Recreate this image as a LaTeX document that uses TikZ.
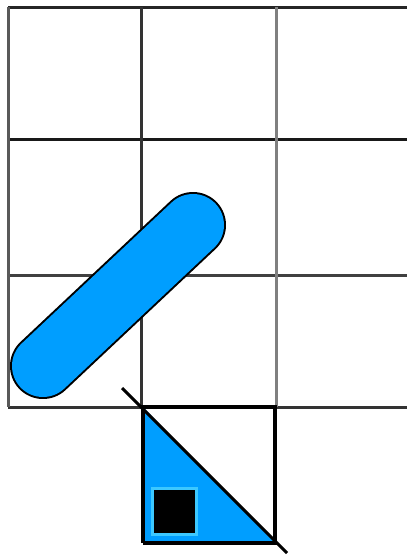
\documentclass[tikz,border=0pt]{standalone}
\begin{document}
\begin{tikzpicture}[x=1pt,y=-1pt,
  gline/.style={line width=3pt},
  capblue/.style={color={rgb,255:red,0;green,158;blue,255}}]
\definecolor{cblue}{RGB}{0,158,255}
\definecolor{lblue}{RGB}{60,200,255}
\useasboundingbox (0,0) rectangle (407,555);
% grid
\coordinate (g00) at (8,7);
\draw[gline,color=black!85] (8,7) -- (407,7);
\draw[gline,color=black!90] (8,139) -- (407,139);
\draw[gline,color=black!75] (8,275) -- (407,275);
\draw[gline,color=black!80] (8,407) -- (407,407);
\draw[gline,color=black!65] (8,7) -- (8,407);
\draw[gline,color=black!80] (141,7) -- (141,407);
\draw[gline,color=black!50] (276,7) -- (276,407);
% capsule
\coordinate (ca) at (43,366);
\coordinate (cb) at (193,225);
\draw[line width=66pt,line cap=round,black] (ca) -- (cb);
\draw[line width=62pt,line cap=round,cblue] (ca) -- (cb);
% bottom square
\coordinate (t1) at (143,407);
\coordinate (t2) at (143,543);
\coordinate (t3) at (275,543);
\coordinate (t4) at (275,407);
\fill[cblue] (t1) -- (t2) -- (t3) -- cycle;
\draw[line width=4pt,black] (t2) -- (t1) -- (t4) -- (t3) -- (t2);
\coordinate (d1) at (122,388);
\coordinate (d2) at (287,553);
\draw[line width=3pt,black] (d1) -- (d2);
% small square
\draw[lblue,line width=3pt,fill=black] (152,488) rectangle (196,534);
\end{tikzpicture}
\end{document}
